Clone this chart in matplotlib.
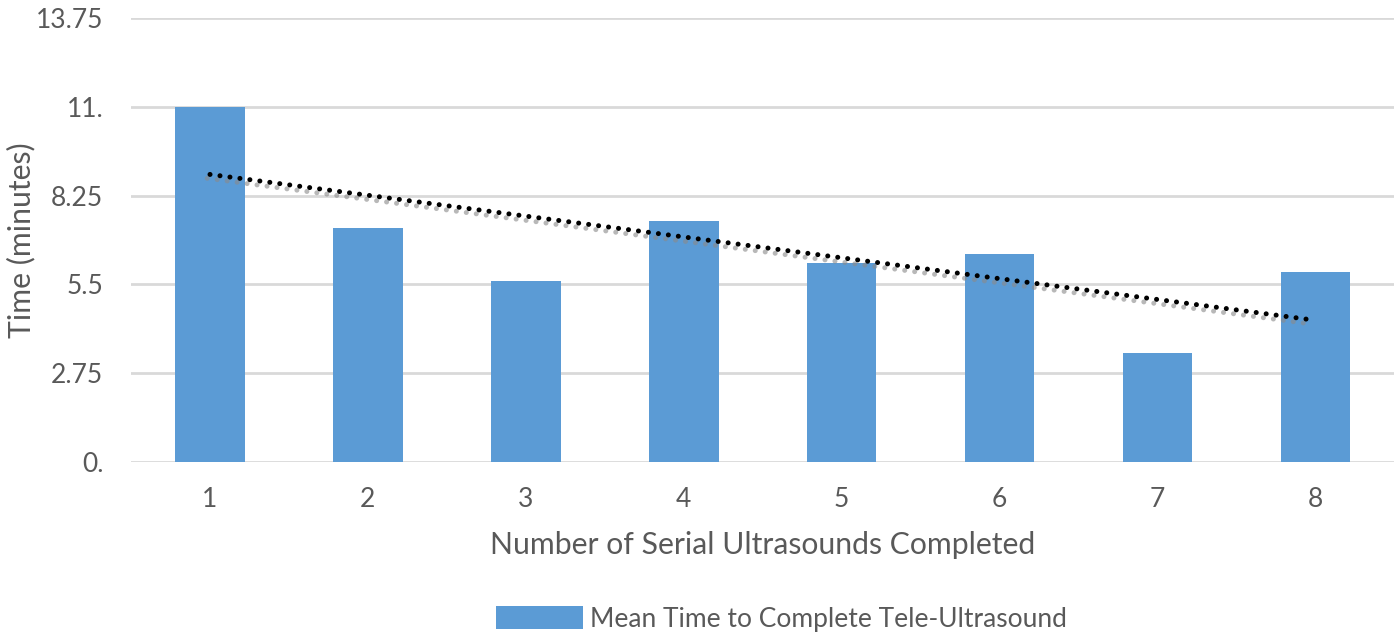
import numpy as np
import matplotlib
matplotlib.use("Agg")
import matplotlib.pyplot as plt
import matplotlib.patheffects as pe

# values
sessions = [1, 2, 3, 4, 5, 6, 7, 8]
mean_time = [11.01, 7.26, 5.61, 7.47, 6.15, 6.43, 3.37, 5.87]
y_ticks = [0, 2.75, 5.5, 8.25, 11, 13.75]
y_tick_labels = ["0.", "2.75", "5.5", "8.25", "11.", "13.75"]
series_name = "Mean Time to Complete Tele-Ultrasound"

plt.rcParams['font.family'] = ['Lato', 'DejaVu Sans']
text_col = "#595959"

fig = plt.figure(figsize=(14, 6.4), dpi=100)
ax = fig.add_axes([0.0936, 0.2786, 0.9024, 0.6928])

ax.bar(sessions, mean_time, width=0.44, color="#5b9bd5", zorder=3, label=series_name)

# linear trendline (least squares fit of the bars), with a soft grey shadow
slope, intercept = np.polyfit(sessions, mean_time, 1)
xs = np.array([sessions[0], sessions[-1]])
ax.plot(xs, slope * xs + intercept, color="black", lw=3.6,
        linestyle=(0, (0.01, 2.0)), dash_capstyle="round", zorder=4,
        path_effects=[pe.SimpleLineShadow(offset=(-2.0, -2.8), shadow_color="#8a8a8a", alpha=0.6),
                      pe.Normal()])

ax.set_xlim(0.5, 8.5)
ax.set_ylim(0, 13.75)
ax.set_yticks(y_ticks)
ax.set_yticklabels(y_tick_labels)
ax.set_xticks(sessions)
ax.grid(axis="y", color="#d9d9d9", lw=2, zorder=0)
for s in ax.spines.values():
    s.set_visible(False)
ax.tick_params(axis="both", length=0, labelsize=19, labelcolor=text_col)
ax.tick_params(axis="y", pad=20)
ax.tick_params(axis="x", pad=18)

ax.set_xlabel("Number of Serial Ultrasounds Completed", fontsize=21.7, color=text_col, labelpad=14)
ax.set_ylabel("Time (minutes)", fontsize=21.7, color=text_col, va="center")
ax.yaxis.set_label_coords(-0.087, 0.5)

fig.legend(loc="center", bbox_to_anchor=(0.558, 0.033), frameon=False,
           fontsize=19, labelcolor=text_col, handlelength=3.33, handleheight=0.95,
           handletextpad=0.25)

plt.savefig("out.png")
